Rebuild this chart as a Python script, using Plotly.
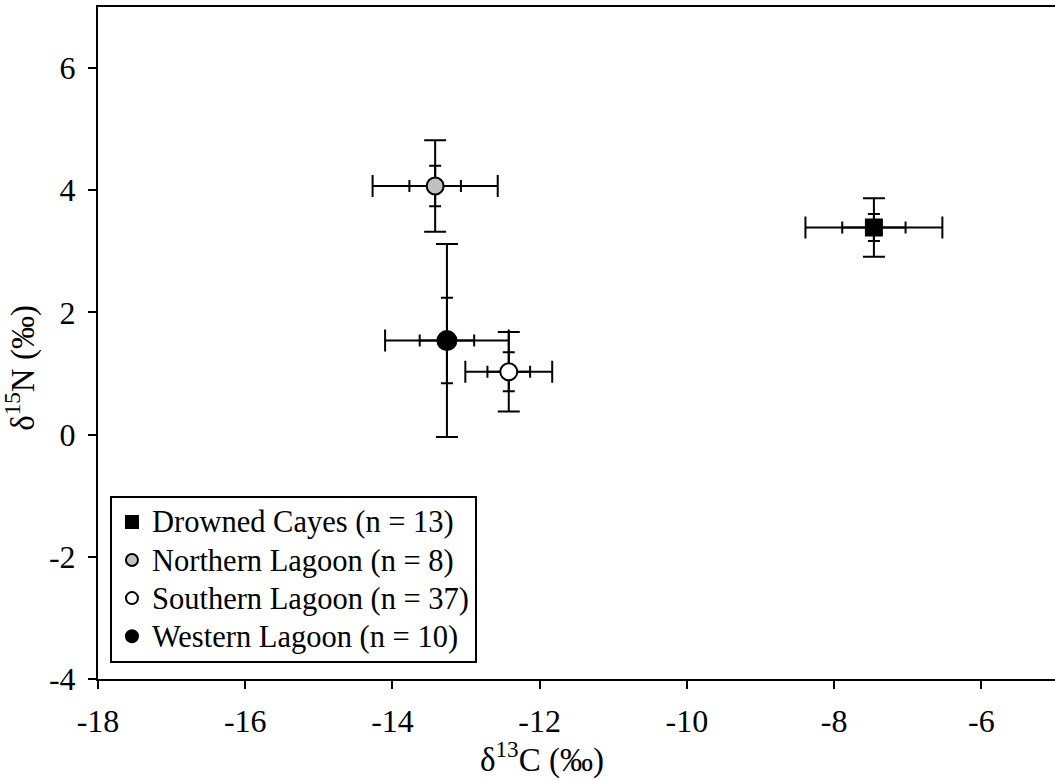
import plotly.graph_objects as go

sites = ["Drowned Cayes (n = 13)", "Northern Lagoon (n = 8)",
         "Southern Lagoon (n = 37)", "Western Lagoon (n = 10)"]
d13c = [-7.46, -13.42, -12.42, -13.26]
d15n = [3.39, 4.07, 1.03, 1.54]
c_sd = [0.93, 0.85, 0.59, 0.84]
n_sd = [0.48, 0.75, 0.65, 1.58]
c_se = [0.43, 0.35, 0.29, 0.37]
n_se = [0.22, 0.33, 0.32, 0.70]
symbols = ["square", "circle", "circle", "circle"]
fills = ["#000000", "#c0c0c0", "#ffffff", "#000000"]
sizes = [16, 17, 17, 19]
x_ticks = [-18, -16, -14, -12, -10, -8, -6]
y_ticks = [-4, -2, 0, 2, 4, 6]

FONT = "Liberation Serif"
fig = go.Figure()

# inner bars (drawn first, underneath)
for i in range(len(sites)):
    fig.add_trace(go.Scatter(
        x=[d13c[i]], y=[d15n[i]], mode="markers",
        marker=dict(size=1, color="rgba(0,0,0,0)"),
        error_x=dict(type="data", array=[c_se[i]], color="black", thickness=2, width=6),
        error_y=dict(type="data", array=[n_se[i]], color="black", thickness=2, width=6),
        showlegend=False, hoverinfo="skip"))

for i in range(len(sites)):
    fig.add_trace(go.Scatter(
        x=[d13c[i]], y=[d15n[i]], mode="markers",
        name='<span style="font-size:30.5px">' + sites[i] + '</span>',
        marker=dict(symbol=symbols[i], size=sizes[i], color=fills[i],
                    line=dict(color="black", width=2)),
        error_x=dict(type="data", array=[c_sd[i]], color="black", thickness=2, width=11),
        error_y=dict(type="data", array=[n_sd[i]], color="black", thickness=2, width=11)))

fig.update_layout(
    width=1055, height=780,
    margin=dict(l=98, r=0, t=7, b=101),
    paper_bgcolor="white", plot_bgcolor="white",
    font=dict(family=FONT, size=32, color="black"),
    showlegend=True,
    legend=dict(x=0.0125, y=0.024, xanchor="left", yanchor="bottom",
                bgcolor="white", bordercolor="black", borderwidth=2,
                font=dict(family=FONT, size=27, color="black"),
                tracegroupgap=0, itemsizing="constant"),
    xaxis=dict(range=[-18, -5], tickvals=x_ticks,
               ticktext=[str(v) for v in x_ticks],
               showgrid=False, zeroline=False, showline=True, linecolor="black",
               linewidth=2, mirror=True, ticks="outside", ticklen=8, tickwidth=2,
               tickcolor="black", ticklabelstandoff=5,
               tickfont=dict(family=FONT, size=32)),
    yaxis=dict(range=[-4, 7], tickvals=y_ticks,
               ticktext=[str(v) for v in y_ticks],
               showgrid=False, zeroline=False, showline=True, linecolor="black",
               linewidth=2, mirror=False, ticks="outside", ticklen=8, tickwidth=2,
               tickcolor="black", ticklabelstandoff=6,
               tickfont=dict(family=FONT, size=32)),
    annotations=[
        dict(text="δ<sup>13</sup>C (‰)", xref="paper", yref="paper",
             x=0.464, y=-0.1175, xanchor="center", yanchor="middle",
             showarrow=False, font=dict(family=FONT, size=33, color="black")),
        dict(text="δ<sup>15</sup>N (‰)", xref="paper", yref="paper",
             x=-0.0805, y=0.463, xanchor="center", yanchor="middle",
             textangle=-90, showarrow=False,
             font=dict(family=FONT, size=33, color="black")),
    ],
)

fig.write_html("out.html")
